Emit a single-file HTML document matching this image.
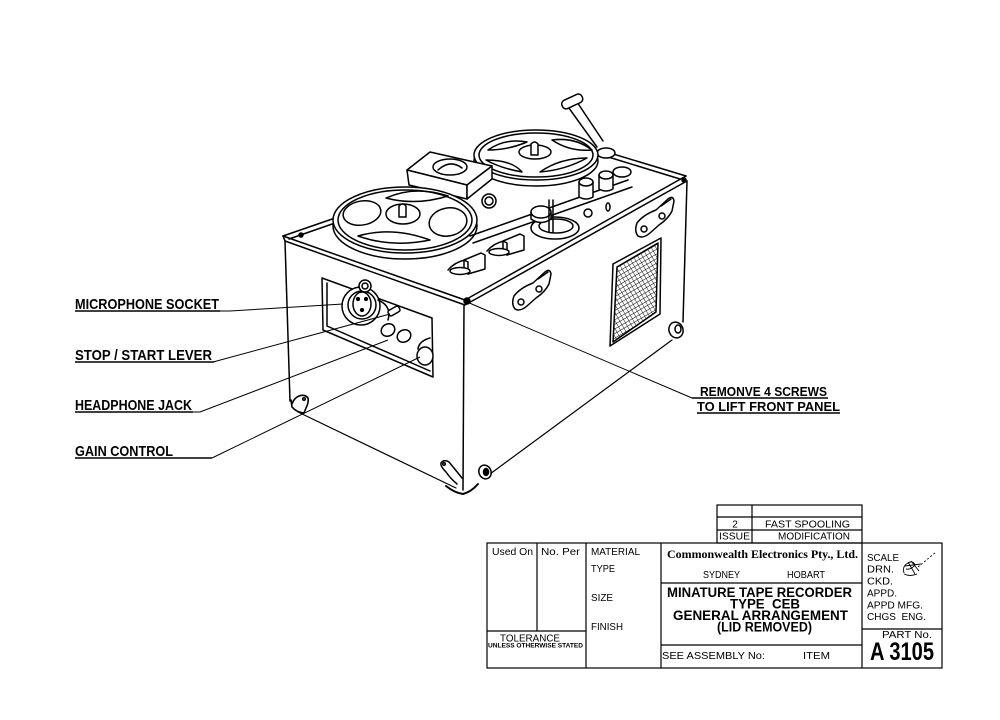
<!DOCTYPE html>
<html><head><meta charset="utf-8"><style>
html,body{margin:0;padding:0;background:#fff;}
svg{display:block;}
text{font-family:"Liberation Sans",Arial,sans-serif;fill:#000;}
</style></head><body>
<svg width="1000" height="720" viewBox="0 0 1000 720" xmlns="http://www.w3.org/2000/svg">
<defs>
<pattern id="mesh" width="4" height="4" patternUnits="userSpaceOnUse" patternTransform="rotate(-30)">
<path d="M0,0H4M0,0V4" stroke="#000" stroke-width="0.9" fill="none"/>
</pattern>
<g id="lever">
<path d="M503,241 L520,234 L524,236 L524,250 L507,255 L503,252 Z" fill="#fff"/>
<path d="M507,255 L507,243 L503,241"/>
<path d="M487,251 Q494,243 504,241"/>
<ellipse cx="499" cy="252" rx="10" ry="3.5" fill="#fff"/>
</g>
<g id="bracket">
<path d="M514,296 Q520,288 533,283 L545,272 Q550,268 551,274 L549,284 Q545,292 536,298 L527,306 Q520,312 515,309 Q511,304 514,296 Z" fill="#fff"/>
<circle cx="521" cy="302" r="3"/>
<circle cx="539" cy="289" r="3"/>
<path d="M538,279 L548,272"/>
</g>
</defs>

<g fill="none" stroke="#000" stroke-width="1.5" stroke-linejoin="round" stroke-linecap="round">
<!-- box -->
<path d="M283,236 L465,300 L686,176"/>
<path d="M285,241 L465,305 L687,181"/>
<path d="M283,236 L285,241"/>
<path d="M283,236 L338,217"/>
<path d="M289,239 L338,222"/>
<path d="M686,176 L600,150"/>
<path d="M680,179 L605,156"/>
<path d="M285,241 L290,401"/>
<path d="M298,412 L456,488" stroke-width="1.2"/>
<path d="M464,305 L463,490"/>
<path d="M490,474 L672,340" stroke-width="1.2"/>
<path d="M687,181 L683,322"/>

<!-- feet -->
<path d="M291,400 L292,407 Q296,412 304,413 L306,408 Q309,402 308,398 Q305,394 299,396 Q294,398 292,404" stroke-width="1.6"/>
<circle cx="304" cy="399" r="1.3"/>
<path d="M446,486 Q455,493 463,494 Q471,492 478,484" stroke-width="2"/>
<path d="M457,484 Q450,478 446,472 Q440,466 441,463 Q444,459 449,462 Q454,468 462,478" fill="#fff"/>
<circle cx="444" cy="464" r="1.3"/>
<ellipse cx="485" cy="472" rx="6" ry="7" fill="#fff" transform="rotate(-25 485 472)"/>
<ellipse cx="486" cy="472" rx="2.5" ry="3.5" fill="#000"/>
<ellipse cx="676" cy="330" rx="7" ry="8" fill="#fff" transform="rotate(-20 676 330)"/>
<ellipse cx="678" cy="329" rx="3" ry="4"/>

<!-- crank -->
<path d="M566,104 L597,147 M577,102 L603,141"/>
<rect x="561" y="97" width="22" height="9" rx="4" transform="rotate(-25 572 101)" fill="#fff"/>
<ellipse cx="606" cy="153" rx="9" ry="5" fill="#fff"/>

<!-- right reel -->
<ellipse cx="536" cy="161" rx="62" ry="25" fill="#fff"/>
<ellipse cx="536" cy="155" rx="62" ry="25" fill="#fff"/>
<ellipse cx="536" cy="155" rx="57" ry="22"/>
<path d="M488,150 Q505,138 527,142 Q508,150 488,150 Z"/>
<path d="M552,140 Q575,137 592,150 Q570,152 552,140 Z"/>
<path d="M486,160 Q500,168 522,172 Q512,160 486,160 Z"/>
<path d="M540,172 Q565,170 587,158 Q560,158 540,172 Z"/>
<ellipse cx="535" cy="152" rx="16" ry="7"/>
<path d="M531,155 L531,144 Q534.5,140 538,144 L538,155 Z" fill="#fff"/>

<!-- head block -->
<path d="M407,170 L430,152 L492,166 L467,185 Z" fill="#fff"/>
<path d="M407,170 L467,185 L467,199 L409,185 Z" fill="#fff"/>
<path d="M467,185 L492,166 L492,179 L467,199 Z" fill="#fff"/>
<ellipse cx="450" cy="167" rx="17" ry="8"/>
<path d="M438,170 Q450,159 462,168"/>
<circle cx="489" cy="201" r="7" fill="#fff"/>
<circle cx="489" cy="201" r="4"/>

<!-- left reel -->
<ellipse cx="405" cy="226" rx="72" ry="33" fill="#fff"/>
<ellipse cx="405" cy="220" rx="72" ry="33" fill="#fff"/>
<ellipse cx="405" cy="220" rx="67" ry="30"/>
<ellipse cx="362" cy="213" rx="19" ry="12" transform="rotate(-10 362 213)"/>
<ellipse cx="448" cy="222" rx="19" ry="14" transform="rotate(-10 448 222)"/>
<path d="M386,198 Q415,185 448,196 Q416,206 386,198 Z"/>
<path d="M358,236 Q392,226 430,240 Q392,248 358,236 Z"/>
<ellipse cx="403" cy="214" rx="17" ry="10"/>
<path d="M399,217 L399,206 Q402.5,202 406,206 L406,217 Z" fill="#fff"/>

<!-- tape band -->
<path d="M470,236 L628,180"/>
<path d="M473,243 L632,187"/>

<!-- capstan assembly -->
<ellipse cx="555" cy="228" rx="24" ry="11" fill="#fff"/>
<ellipse cx="556" cy="226" rx="17" ry="7"/>
<path d="M531,212 L531,219 Q541,226 551,219 L551,212" fill="#fff"/>
<ellipse cx="541" cy="212" rx="10" ry="6" fill="#fff"/>
<path d="M549,200 L549,232 M553,200 L553,232"/>
<path d="M579,182 L579,197 Q586,201 593,197 L593,182" fill="#fff"/>
<ellipse cx="586" cy="182" rx="7" ry="4" fill="#fff"/>
<path d="M599,175 L599,189 Q606,193 613,189 L613,175" fill="#fff"/>
<ellipse cx="606" cy="175" rx="7" ry="4" fill="#fff"/>
<ellipse cx="608" cy="207" rx="2" ry="4"/>
<circle cx="588" cy="213" r="4"/>
<ellipse cx="622" cy="172" rx="9" ry="5" fill="#fff"/>

<!-- levers -->
<use href="#lever"/>
<use href="#lever" transform="translate(-39,19)"/>

<!-- brackets -->
<use href="#bracket"/>
<use href="#bracket" transform="translate(123,-73)"/>

<!-- grille -->
<path d="M613,264 L661,238 L660,314 L610,346 Z"/>
<path d="M617,267 L658,243 L656,312 L613,342 Z" fill="url(#mesh)"/>

<!-- panel cutout -->
<path d="M322,278 L432,318 L433,377 L323,330 Z" fill="#fff"/>
<path d="M327,283 L327,326 L430,371"/>
<circle cx="361" cy="306" r="19" fill="#fff"/>
<path d="M378,300 Q392,306 388,320"/>
<circle cx="362" cy="305" r="14"/>
<ellipse cx="362" cy="304" rx="9" ry="12"/>
<circle cx="358" cy="299" r="1.4" fill="#000"/>
<circle cx="366" cy="299" r="1.4" fill="#000"/>
<circle cx="362" cy="310" r="1.4" fill="#000"/>
<circle cx="365" cy="286" r="6" fill="#fff"/>
<circle cx="365" cy="286" r="3"/>
<rect x="388" y="308" width="12" height="6" rx="2" transform="rotate(-30 394 311)" fill="#fff"/>
<ellipse cx="388" cy="330" rx="7" ry="6" transform="rotate(-30 388 330)" fill="#fff"/>
<ellipse cx="404" cy="336" rx="7" ry="6" transform="rotate(-30 404 336)" fill="#fff"/>
<path d="M418,349 Q419,341 430,338"/>
<ellipse cx="425" cy="356" rx="8" ry="9" fill="#fff"/>

<!-- screws -->
<circle cx="467" cy="301" r="3" fill="#000"/>
<circle cx="301" cy="235" r="2" fill="#000"/>
<circle cx="684" cy="180" r="2" fill="#000"/>
</g>

<!-- leaders -->
<g fill="none" stroke="#000" stroke-width="1">
<path d="M219,311 L230,311 L343,304"/>
<path d="M213,362 L390,314"/>
<path d="M192,412 L200,412 L388,340"/>
<path d="M212,458 L420,357"/>
<path d="M467,302 L692,398"/>
</g>
<g stroke="#000" stroke-width="1.5">
<line x1="75" y1="311" x2="220" y2="311"/>
<line x1="75" y1="362" x2="214" y2="362"/>
<line x1="75" y1="412" x2="193" y2="412"/>
<line x1="75" y1="458" x2="212" y2="458"/>
<line x1="692" y1="398" x2="828" y2="398"/>
<line x1="697" y1="413" x2="840" y2="413"/>
</g>
<g font-weight="bold" font-size="15">
<text x="75" y="309" textLength="144" lengthAdjust="spacingAndGlyphs">MICROPHONE SOCKET</text>
<text x="75" y="360" textLength="137" lengthAdjust="spacingAndGlyphs">STOP / START LEVER</text>
<text x="75" y="410" textLength="117" lengthAdjust="spacingAndGlyphs">HEADPHONE JACK</text>
<text x="75" y="456" textLength="98" lengthAdjust="spacingAndGlyphs">GAIN CONTROL</text>
</g>
<g font-weight="bold" font-size="13">
<text x="700" y="396" textLength="127" lengthAdjust="spacingAndGlyphs">REMONVE 4 SCREWS</text>
<text x="697" y="411" textLength="143" lengthAdjust="spacingAndGlyphs">TO LIFT FRONT PANEL</text>
</g>

<!-- title block -->
<g fill="none" stroke="#000" stroke-width="1.2">
<rect x="717" y="505" width="145" height="38"/>
<line x1="752" y1="505" x2="752" y2="543"/>
<line x1="717" y1="517" x2="862" y2="517"/>
<line x1="717" y1="530" x2="862" y2="530"/>
<rect x="487" y="543" width="455" height="125"/>
<line x1="537" y1="543" x2="537" y2="631"/>
<line x1="487" y1="631" x2="586" y2="631"/>
<line x1="586" y1="543" x2="586" y2="668"/>
<line x1="661" y1="543" x2="661" y2="668"/>
<line x1="862" y1="543" x2="862" y2="668"/>
<line x1="661" y1="583" x2="862" y2="583"/>
<line x1="661" y1="645" x2="862" y2="645"/>
<line x1="862" y1="629" x2="942" y2="629"/>
</g>
<g font-size="10">
<text x="735" y="527.5" text-anchor="middle">2</text>
<text x="765" y="527.5" textLength="85" lengthAdjust="spacingAndGlyphs">FAST SPOOLING</text>
<text x="719" y="539.5" textLength="31" lengthAdjust="spacingAndGlyphs">ISSUE</text>
<text x="778" y="539.5" textLength="72" lengthAdjust="spacingAndGlyphs">MODIFICATION</text>
<text x="492" y="555" textLength="41" lengthAdjust="spacingAndGlyphs">Used On</text>
<text x="541" y="555" textLength="39" lengthAdjust="spacingAndGlyphs">No. Per</text>
<text x="591" y="555" textLength="49" lengthAdjust="spacingAndGlyphs">MATERIAL</text>
<text x="591" y="572" textLength="24" lengthAdjust="spacingAndGlyphs">TYPE</text>
<text x="591" y="601" textLength="22" lengthAdjust="spacingAndGlyphs">SIZE</text>
<text x="591" y="630" textLength="32" lengthAdjust="spacingAndGlyphs">FINISH</text>
<text x="500" y="641.5" textLength="60" lengthAdjust="spacingAndGlyphs">TOLERANCE</text>
<text x="703" y="578" textLength="37" lengthAdjust="spacingAndGlyphs">SYDNEY</text>
<text x="787" y="578" textLength="38" lengthAdjust="spacingAndGlyphs">HOBART</text>
<text x="662" y="659" textLength="103" lengthAdjust="spacingAndGlyphs">SEE ASSEMBLY No:</text>
<text x="803" y="659" textLength="27" lengthAdjust="spacingAndGlyphs">ITEM</text>
<text x="867" y="561" textLength="32" lengthAdjust="spacingAndGlyphs">SCALE</text>
<text x="867" y="572.5" textLength="27" lengthAdjust="spacingAndGlyphs">DRN.</text>
<text x="867" y="584.5" textLength="26" lengthAdjust="spacingAndGlyphs">CKD.</text>
<text x="867" y="596.5" textLength="30" lengthAdjust="spacingAndGlyphs">APPD.</text>
<text x="867" y="608.5" textLength="56" lengthAdjust="spacingAndGlyphs">APPD MFG.</text>
<text x="867" y="620" textLength="59" lengthAdjust="spacingAndGlyphs">CHGS&#160; ENG.</text>
<text x="882" y="638" textLength="50" lengthAdjust="spacingAndGlyphs">PART No.</text>
</g>
<text x="488" y="647.5" font-size="6" font-weight="bold" textLength="95" lengthAdjust="spacingAndGlyphs">UNLESS OTHERWISE STATED</text>
<text x="667" y="558" font-size="12" font-weight="bold" textLength="191" lengthAdjust="spacingAndGlyphs" style="font-family:'Liberation Serif',serif">Commonwealth Electronics Pty., Ltd.</text>
<g font-size="13.5" font-weight="bold">
<text x="667" y="597" textLength="185" lengthAdjust="spacingAndGlyphs">MINATURE TAPE RECORDER</text>
<text x="730" y="608.5" textLength="70" lengthAdjust="spacingAndGlyphs">TYPE&#160; CEB</text>
<text x="673" y="620" textLength="175" lengthAdjust="spacingAndGlyphs">GENERAL ARRANGEMENT</text>
<text x="717" y="631.5" textLength="95" lengthAdjust="spacingAndGlyphs">(LID REMOVED)</text>
</g>
<text x="870" y="660" font-size="25" font-weight="bold" textLength="64" lengthAdjust="spacingAndGlyphs">A 3105</text>
<!-- signature -->
<g fill="none" stroke="#000" stroke-width="0.9">
<path d="M904,573 Q902,566 908,563 Q913,560 915,565 Q911,570 906,569 M908,562 L915,574 M911,561 L919,571 M905,566 L921,564 M904,574 Q910,577 917,574"/>
<path d="M918,567 L936,552" stroke-dasharray="2,2"/>
</g>
</svg>
</body></html>
